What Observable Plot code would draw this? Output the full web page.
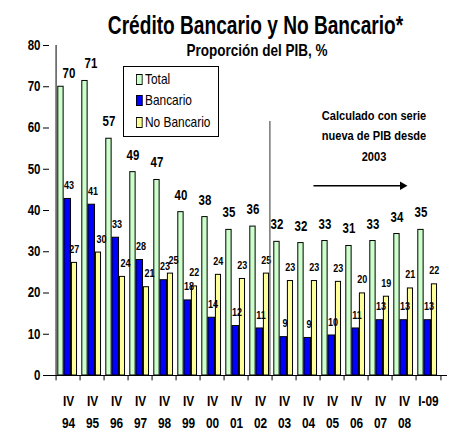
<!DOCTYPE html>
<html><head><meta charset="utf-8">
<script src="https://cdn.jsdelivr.net/npm/d3@7"></script>
<script src="https://cdn.jsdelivr.net/npm/@observablehq/plot@0.6"></script>
<style>
body{margin:0;background:#fff;}
#wrap{position:relative;width:454px;height:438px;overflow:hidden;}
#legend{position:absolute;left:123px;top:66px;width:94px;height:69px;border:1px solid #000;background:#fff;
 font-family:"Liberation Sans",Arial,sans-serif;font-size:14.5px;color:#000;}
#legend .it{position:absolute;left:12px;height:16px;line-height:16px;white-space:nowrap;transform:scaleX(0.82);transform-origin:0 50%;}
#legend .k{display:inline-block;width:6px;height:9px;border:1px solid #000;vertical-align:-1px;margin-right:3px;}
</style>
</head><body><div id="wrap"></div>
<script>
const categories = ["IV 94","IV 95","IV 96","IV 97","IV 98","IV 99","IV 00","IV 01","IV 02","IV 03","IV 04","IV 05","IV 06","IV 07","IV 08","I-09"];
const tickTop = ["IV","IV","IV","IV","IV","IV","IV","IV","IV","IV","IV","IV","IV","IV","IV","I-09"];
const tickBottom = ["94","95","96","97","98","99","00","01","02","03","04","05","06","07","08",""];
const total = [70.0,71.4,57.4,49.3,47.4,39.6,38.4,35.3,36.1,32.4,32.1,32.6,31.4,32.6,34.3,35.3];
const bancario = [42.8,41.4,33.4,28.0,23.1,18.2,14.0,12.0,11.4,9.3,9.1,9.7,11.4,13.4,13.4,13.4];
const noBancario = [27.3,29.8,23.9,21.4,24.7,21.6,24.4,23.4,24.7,22.9,22.9,22.7,19.9,19.1,21.1,22.1];
const yTicks = [0,10,20,30,40,50,60,70,80];
const seriesNames = ["Total","Bancario","No Bancario"];
const seriesColors = ["#CCFFCC","#0000FF","#FFFF99"];
const title = "Crédito Bancario y No Bancario*";
const subtitle = "Proporción del PIB, %";
const note = "Calculado con serie\nnueva de PIB desde\n2003";

const rows = categories.map((c, i) => ({i, cat: c, total: total[i], bancario: bancario[i], noBancario: noBancario[i], top: tickTop[i], bottom: tickBottom[i]}));

const W = 454, H = 438, mL = 49, mR = 7, mT = 45, mB = 63;
const bw = (W - mL - mR) / categories.length;
const FONT = '"Liberation Sans",Arial,sans-serif';
const fmt = v => String(Math.round(v));
const B = {fontWeight: "bold", fill: "#000"};

const chart = Plot.plot({
  width: W, height: H,
  marginLeft: mL, marginRight: mR, marginTop: mT, marginBottom: mB,
  style: {fontFamily: FONT, background: "#fff", overflow: "visible"},
  x: {type: "band", domain: categories, padding: 0, axis: null},
  y: {domain: [0, 80], axis: null},
  marks: [
    Plot.barY(rows, {x: "cat", y: "total", fill: seriesColors[0], stroke: "#000", strokeWidth: 1, insetLeft: 1.8, insetRight: bw - 8}),
    Plot.barY(rows, {x: "cat", y: "bancario", fill: seriesColors[1], stroke: "#000", strokeWidth: 1, insetLeft: 8, insetRight: bw - 15.4}),
    Plot.barY(rows, {x: "cat", y: "noBancario", fill: seriesColors[2], stroke: "#000", strokeWidth: 1, insetLeft: 15.4, insetRight: bw - 21.4}),
    // value labels (the first two totals sit further right, as in the original)
    Plot.text(rows.filter(d => d.i === 0), {x: "cat", y: "total", text: d => fmt(d.total), dx: 0.5, dy: -13.5, fontSize: 14, ...B}),
    Plot.text(rows.filter(d => d.i === 1), {x: "cat", y: "total", text: d => fmt(d.total), dx: -1.5, dy: -17, fontSize: 14, ...B}),
    Plot.text(rows.filter(d => d.i > 1), {x: "cat", y: "total", text: d => fmt(d.total), dx: -7.5, dy: -17, fontSize: 14, ...B}),
    Plot.text(rows, {x: "cat", y: "bancario", text: d => fmt(d.bancario), dx: 0.5, dy: -13.5, fontSize: 11, ...B}),
    Plot.text(rows.filter(d => d.i >= 1 && d.i <= 4), {x: "cat", y: "noBancario", text: d => fmt(d.noBancario), dx: 9, dy: -13.5, fontSize: 11, ...B}),
    Plot.text(rows.filter(d => d.i < 1 || d.i > 4), {x: "cat", y: "noBancario", text: d => fmt(d.noBancario), dx: 5.8, dy: -13.5, fontSize: 11, ...B}),
    // axes
    Plot.axisY({ticks: yTicks, tickSize: 6, tickPadding: 3, fontSize: 14, fontWeight: "bold", label: null, tickFormat: d => d}),
    Plot.ruleX([categories[0]], {y1: 0, y2: 80, dx: -bw / 2, stroke: "#000"}),
    Plot.ruleY([0], {stroke: "#000"}),
    Plot.ruleX(categories, {y1: 0, y2: -1.3, dx: -bw / 2, stroke: "#000"}),
    Plot.ruleX([categories[categories.length - 1]], {y1: 0, y2: -1.3, dx: bw / 2, stroke: "#000"}),
    Plot.text(rows, {x: "cat", text: "top", frameAnchor: "bottom", dy: 30, fontSize: 14.5, ...B}),
    Plot.text(rows, {x: "cat", text: "bottom", frameAnchor: "bottom", dy: 52, fontSize: 14.5, ...B}),
    // series break line
    Plot.ruleX([categories[9]], {y1: 0, y2: 61.6, dx: -14.6, stroke: "#555", strokeWidth: 1.2}),
    // annotation
    Plot.text([note], {x: () => categories[13], y: () => 58.6, text: d => d, dx: -6.5, fontSize: 13.5, lineHeight: 1.55, ...B}),
    Plot.arrow([0], {x1: () => categories[10], x2: () => categories[14], y1: () => 46, y2: () => 46, insetStart: 5.5, insetEnd: 3, headLength: 0, stroke: "#000", strokeWidth: 1.5, bend: 0}),
    Plot.dot([0], {x: () => categories[14], y: () => 46, symbol: "triangle", rotate: 90, r: 3.2, dx: -2, fill: "#000", stroke: "none"}),
    // titles
    Plot.text([title], {frameAnchor: "top", text: d => d, dx: 7, dy: -29.5, fontSize: 25, ...B}),
    Plot.text([subtitle], {frameAnchor: "top", text: d => d, dx: 8.5, dy: -1, fontSize: 16.5, ...B})
  ]
});

// narrow the text horizontally to mimic the condensed face of the original
chart.querySelectorAll("text").forEach(t => {
  const sx = t.textContent === title ? 0.765 : 0.82;
  const tr = t.getAttribute("transform");
  if (tr) {
    t.setAttribute("transform", tr + ` scale(${sx},1)`);
  } else {
    const x = +(t.getAttribute("x") || 0);
    t.setAttribute("transform", `translate(${x},0) scale(${sx},1) translate(${-x},0)`);
  }
});

const wrap = document.getElementById("wrap");
wrap.appendChild(chart);

const legend = document.createElement("div");
legend.id = "legend";
const tops = [4, 25, 47];
seriesNames.forEach((name, i) => {
  const it = document.createElement("div");
  it.className = "it";
  it.style.top = tops[i] + "px";
  const k = document.createElement("span");
  k.className = "k";
  k.style.background = seriesColors[i];
  it.appendChild(k);
  it.appendChild(document.createTextNode(name));
  legend.appendChild(it);
});
wrap.appendChild(legend);
</script>
</body></html>
